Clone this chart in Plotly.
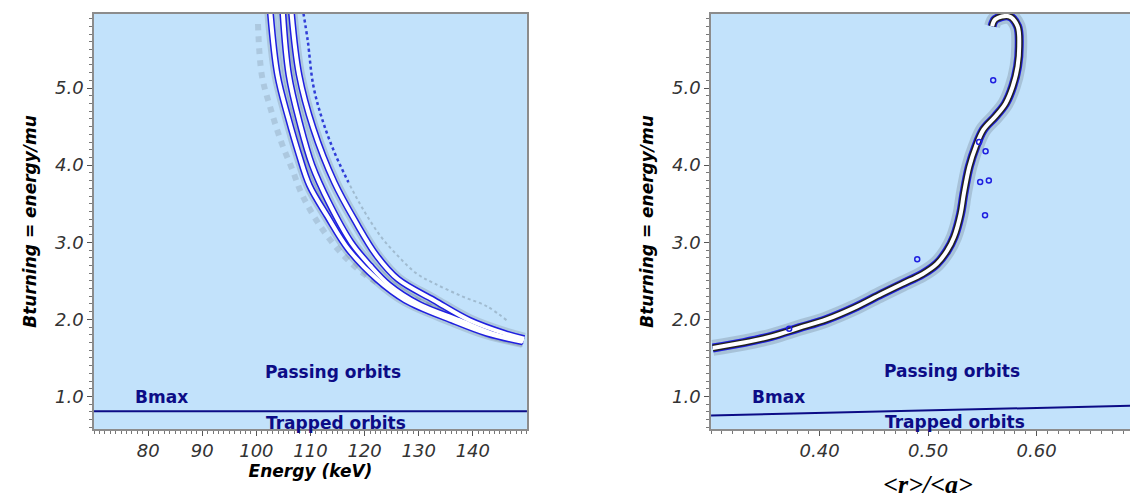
import plotly.graph_objects as go

# ---- left panel: Bturning vs energy ----
E_BAND1 = [102.6, 103.9, 105.9, 107.9, 109.8, 113.1, 117.0, 122.3, 127.5, 136.1, 142.6, 149.2]
B_BAND1 = [5.97, 5.17, 4.61, 4.13, 3.74, 3.34, 2.91, 2.52, 2.25, 1.99, 1.82, 1.71]
E_BAND2 = [104.9, 106.0, 108.0, 110.3, 113.5, 117.5, 121.0, 124.5, 130.0, 137.5, 143.5, 149.4]
B_BAND2 = [5.97, 5.17, 4.55, 4.00, 3.50, 3.00, 2.70, 2.45, 2.20, 1.99, 1.82, 1.72]
E_BAND3 = [106.5, 107.9, 110.5, 114.4, 118.4, 122.3, 126.2, 132.8, 139.4, 145.9, 149.5]
B_BAND3 = [5.97, 5.17, 4.48, 3.78, 3.26, 2.82, 2.52, 2.25, 1.99, 1.82, 1.75]
E_SHADOW = [100.3, 101.0, 102.6, 104.6, 106.6, 108.5, 111.8, 115.7, 119.7, 123.6, 129.5, 136.1, 141.3]
B_SHADOW = [5.83, 5.17, 4.74, 4.30, 3.95, 3.61, 3.21, 2.86, 2.60, 2.43, 2.25, 2.04, 1.86]
E_OUTER = [108.7, 109.5, 110.5, 112.1, 114.4, 117.0, 119.7, 122.95, 126.2, 129.5, 132.8, 138.0, 142.6, 146.6]
B_OUTER = [5.97, 5.61, 5.04, 4.61, 4.17, 3.78, 3.43, 3.08, 2.82, 2.60, 2.47, 2.30, 2.17, 1.97]
E_BMAX = [70, 150]
B_BMAX_LEFT = [0.81, 0.81]

# ---- right panel: Bturning vs <r>/<a> ----
R_CURVE = [0.3016, 0.330, 0.3556, 0.381, 0.4063, 0.4317, 0.457, 0.476, 0.495, 0.508, 0.5175,
           0.524, 0.530, 0.533, 0.538, 0.544, 0.551, 0.562, 0.5714, 0.578, 0.5825, 0.584,
           0.5825, 0.5746, 0.562, 0.559]
B_CURVE = [1.63, 1.70, 1.78, 1.89, 2.00, 2.15, 2.33, 2.46, 2.59, 2.72, 2.89,
           3.07, 3.37, 3.63, 3.98, 4.24, 4.46, 4.63, 4.80, 5.02, 5.28, 5.54,
           5.80, 5.93, 5.89, 5.80]
R_BLOBS = [0.548, 0.556, 0.5525, 0.553, 0.547, 0.560, 0.372, 0.490]
B_BLOBS = [3.78, 3.80, 3.35, 4.18, 4.30, 5.10, 1.88, 2.78]
R_BMAX = [0.3, 0.7]
B_BMAX_RIGHT = [0.755, 0.885]

X_TICKS_LEFT = [80, 90, 100, 110, 120, 130, 140]
X_TICKS_RIGHT = [0.40, 0.50, 0.60]
Y_TICKS = [1.0, 2.0, 3.0, 4.0, 5.0]

BG = "#c2e2fb"
NAVY = "#0c0c86"
FONT = "DejaVu Sans"

fig = go.Figure()

# left panel
fig.add_trace(go.Scatter(x=E_SHADOW, y=B_SHADOW, mode="lines", line=dict(color="rgba(60,70,80,0.16)", width=6, dash="dot", shape="spline"),
                         xaxis="x", yaxis="y", hoverinfo="skip"))
fig.add_trace(go.Scatter(x=E_OUTER, y=B_OUTER, mode="lines", line=dict(color="rgba(60,70,80,0.25)", width=2, dash="dot", shape="spline"),
                         xaxis="x", yaxis="y", hoverinfo="skip"))
fig.add_trace(go.Scatter(x=E_OUTER[:6], y=B_OUTER[:6], mode="lines", line=dict(color="rgba(20,30,220,0.8)", width=2.5, dash="dot", shape="spline"),
                         xaxis="x", yaxis="y", hoverinfo="skip"))
for e, b in [(E_BAND1, B_BAND1), (E_BAND2, B_BAND2), (E_BAND3, B_BAND3)]:
    fig.add_trace(go.Scatter(x=e, y=b, mode="lines", line=dict(color="rgba(70,80,90,0.18)", width=12, shape="spline"),
                             xaxis="x", yaxis="y", hoverinfo="skip"))
for e, b in [(E_BAND1, B_BAND1), (E_BAND2, B_BAND2), (E_BAND3, B_BAND3)]:
    fig.add_trace(go.Scatter(x=e, y=b, mode="lines", line=dict(color="#1f1fe0", width=7, shape="spline"),
                             xaxis="x", yaxis="y", hoverinfo="skip"))
for e, b in [(E_BAND1, B_BAND1), (E_BAND2, B_BAND2), (E_BAND3, B_BAND3)]:
    fig.add_trace(go.Scatter(x=e, y=b, mode="lines", line=dict(color="white", width=4, shape="spline"),
                             xaxis="x", yaxis="y", hoverinfo="skip"))
fig.add_trace(go.Scatter(x=E_BMAX, y=B_BMAX_LEFT, mode="lines", line=dict(color=NAVY, width=2),
                         xaxis="x", yaxis="y", hoverinfo="skip"))

# right panel
fig.add_trace(go.Scatter(x=R_CURVE, y=B_CURVE, mode="lines", line=dict(color="rgba(60,70,80,0.2)", width=16, shape="spline"),
                         xaxis="x2", yaxis="y2", hoverinfo="skip"))
fig.add_trace(go.Scatter(x=R_CURVE, y=B_CURVE, mode="lines", line=dict(color="#1f1fe0", width=9, shape="spline"),
                         xaxis="x2", yaxis="y2", hoverinfo="skip"))
fig.add_trace(go.Scatter(x=R_CURVE, y=B_CURVE, mode="lines", line=dict(color="#222222", width=7, shape="spline"),
                         xaxis="x2", yaxis="y2", hoverinfo="skip"))
fig.add_trace(go.Scatter(x=R_CURVE, y=B_CURVE, mode="lines", line=dict(color="white", width=4, shape="spline"),
                         xaxis="x2", yaxis="y2", hoverinfo="skip"))
fig.add_trace(go.Scatter(x=R_BLOBS, y=B_BLOBS, mode="markers",
                         marker=dict(symbol="circle-open", size=5, color="#1f1fe0", line=dict(width=1.5)),
                         xaxis="x2", yaxis="y2", hoverinfo="skip"))
fig.add_trace(go.Scatter(x=R_BMAX, y=B_BMAX_RIGHT, mode="lines", line=dict(color=NAVY, width=2),
                         xaxis="x2", yaxis="y2", hoverinfo="skip"))

tickfont = dict(family=FONT, size=18, color="#333333", style="italic")
titlefont = dict(family=FONT, size=17, color="black", style="italic", weight="bold")
common_axis = dict(showline=True, mirror=True, linecolor="#8c8c8c", linewidth=1.5, showgrid=False,
                   zeroline=False, ticks="outside", ticklen=5, tickcolor="#555555", tickfont=tickfont)

fig.update_layout(
    width=1138, height=497,
    margin=dict(l=0, r=0, t=0, b=0),
    paper_bgcolor="white", plot_bgcolor=BG,
    showlegend=False,
    xaxis=dict(domain=[0.0756, 0.456], range=[70, 150], tickvals=X_TICKS_LEFT,
               title=dict(text="Energy (keV)", font=titlefont, standoff=2),
               minor=dict(dtick=1, ticklen=3, tickcolor="#777777", ticks="outside"), anchor="y", **common_axis),
    yaxis=dict(domain=[0.153, 0.988], range=[0.58, 5.96], tickvals=Y_TICKS, ticktext=[f"{v:.1f}" for v in Y_TICKS],
               title=dict(text="Bturning = energy/mu", font=titlefont, standoff=14),
               minor=dict(dtick=0.1, ticklen=3, tickcolor="#777777", ticks="outside"), anchor="x", **common_axis),
    xaxis2=dict(domain=[0.6178, 0.9992], range=[0.3, 0.7], tickvals=X_TICKS_RIGHT, ticktext=[f"{v:.2f}" for v in X_TICKS_RIGHT],
                title=dict(text="&lt;r&gt;/&lt;a&gt;", font=dict(family="Liberation Serif", size=26, color="black", style="italic", weight="bold"), standoff=14),
                minor=dict(dtick=0.01, ticklen=3, tickcolor="#777777", ticks="outside"), anchor="y2", **common_axis),
    yaxis2=dict(domain=[0.153, 0.988], range=[0.58, 5.96], tickvals=Y_TICKS, ticktext=[f"{v:.1f}" for v in Y_TICKS],
                title=dict(text="Bturning = energy/mu", font=titlefont, standoff=14),
                minor=dict(dtick=0.1, ticklen=3, tickcolor="#777777", ticks="outside"), anchor="x2", **common_axis),
)

labelfont = dict(family=FONT, size=17, color=NAVY, weight="bold")
for xr, yr, x, y, txt in [
    ("x", "y", 114.1, 1.32, "Passing orbits"),
    ("x", "y", 82.5, 0.99, "Bmax"),
    ("x", "y", 114.75, 0.66, "Trapped orbits"),
    ("x2", "y2", 0.522, 1.33, "Passing orbits"),
    ("x2", "y2", 0.362, 1.0, "Bmax"),
    ("x2", "y2", 0.525, 0.67, "Trapped orbits"),
]:
    fig.add_annotation(x=x, y=y, xref=xr, yref=yr, text=txt, showarrow=False, font=labelfont)

fig.write_html("out.html")
